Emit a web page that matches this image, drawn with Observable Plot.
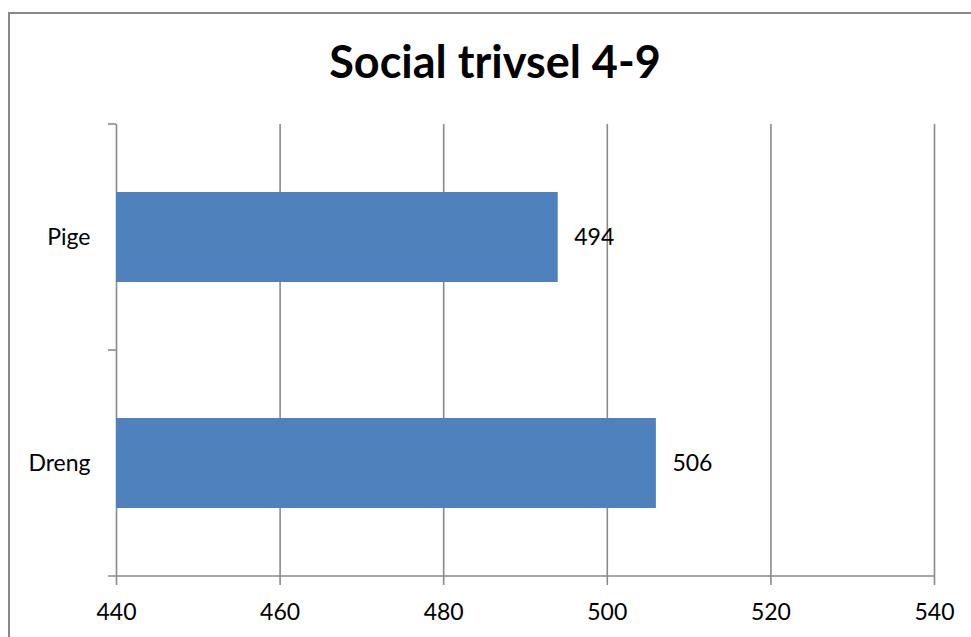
<!DOCTYPE html>
<html>
<head>
<meta charset="utf-8">
<script src="https://cdn.jsdelivr.net/npm/d3@7"></script>
<script src="https://cdn.jsdelivr.net/npm/@observablehq/plot@0.6"></script>
<style>
  html, body { margin: 0; padding: 0; background: #fff; overflow: hidden; }
  #chart { position: relative; width: 971px; height: 637px; overflow: hidden; }
  #border { position: absolute; left: 8px; top: 12px; width: 1000px; height: 700px;
            border: 2px solid #888; box-sizing: border-box; }
  #title { position: absolute; left: 0; width: 990px; top: 39px; text-align: center;
           font-family: Lato, "Open Sans", sans-serif; font-weight: bold; font-size: 45px;
           line-height: 1; color: #000; }
  #plot { position: absolute; left: 0; top: 0; }
</style>
</head>
<body>
<div id="chart">
  <div id="border"></div>
  <div id="title"></div>
  <div id="plot"></div>
</div>
<script>
const title = "Social trivsel 4-9";
const categories = ["Pige", "Dreng"];
const values = [494, 506];
const xDomain = [440, 540];
const xTicks = [440, 460, 480, 500, 520, 540];

const data = categories.map((c, i) => ({category: c, value: values[i]}));
const gridColor = "#8a8a8a";

document.getElementById("title").textContent = title;

// baseline + category-boundary ticks on the y axis
function yFrameTicks(index, scales, vals, dims) {
  const y = scales.y, x = scales.x;
  const step = y.step(), bw = y.bandwidth();
  const half = (step - bw) / 2;
  const bounds = categories.map(c => y(c) - half);
  bounds.push(y(categories[categories.length - 1]) + bw + half);
  const g = d3.create("svg:g").attr("stroke", gridColor).attr("stroke-width", 1.6);
  const x0 = x(xDomain[0]), x1 = x(xDomain[1]);
  bounds.forEach((b, i) => {
    g.append("line").attr("x1", x0 - 8).attr("x2", i === bounds.length - 1 ? x1 : x0)
      .attr("y1", b).attr("y2", b);
  });
  return g.node();
}

const plot = Plot.plot({
  width: 971,
  height: 637,
  marginLeft: 116,
  marginRight: 37,
  marginTop: 124,
  marginBottom: 60,
  style: {fontFamily: "Lato, 'Open Sans', sans-serif", fontSize: "23px", color: "#000", background: "transparent"},
  x: {domain: xDomain, ticks: xTicks},
  y: {domain: categories, paddingInner: 0.6, paddingOuter: 0.3},
  marks: [
    Plot.gridX(xTicks, {stroke: gridColor, strokeOpacity: 1, strokeWidth: 1.6}),
    Plot.barX(data, {x1: () => xDomain[0], x2: "value", y: "category", fill: "#4f81bd"}),
    Plot.text(data, {x: "value", y: "category", text: d => String(d.value), dx: 16,
                     textAnchor: "start", fontSize: 23, fill: "#000"}),
    yFrameTicks,
    Plot.axisX(xTicks, {tickSize: 8, tickPadding: 18, stroke: gridColor, strokeWidth: 1.6,
                        fontSize: 23, fill: "#000", label: null}),
    Plot.axisY({tickSize: 0, tickPadding: 26, fontSize: 23, fill: "#000", label: null})
  ]
});
document.getElementById("plot").appendChild(plot);
</script>
</body>
</html>
